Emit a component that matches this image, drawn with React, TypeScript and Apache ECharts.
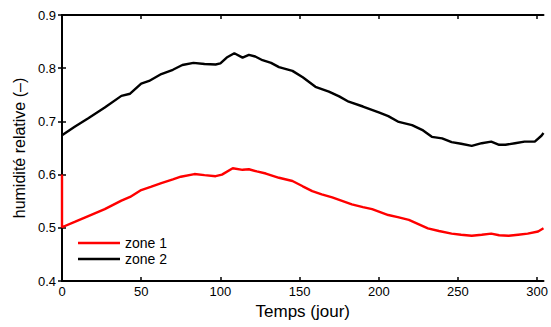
import React, { useEffect, useRef } from "react";
import * as echarts from "echarts";

const xTicks = [0, 50, 100, 150, 200, 250, 300];
const yTicks = [0.4, 0.5, 0.6, 0.7, 0.8, 0.9];

const zone2Days = [0, 8, 16.6, 27, 37.5, 43, 50, 55, 62.7, 70, 76, 83, 90, 97, 100, 104, 108.8, 114, 118, 122, 126.6, 132, 137, 145.5, 152, 160, 168.5, 175, 181, 190, 200, 206, 212.6, 221, 228, 233.5, 240, 246, 252, 258.7, 265, 271, 276, 280, 286, 292, 298.5, 302.7, 304];
const zone2Vals = [0.674, 0.69, 0.706, 0.726, 0.748, 0.752, 0.771, 0.776, 0.789, 0.797, 0.806, 0.81, 0.808, 0.807, 0.809, 0.82, 0.828, 0.82, 0.825, 0.822, 0.815, 0.81, 0.802, 0.795, 0.783, 0.765, 0.756, 0.747, 0.737, 0.728, 0.717, 0.71, 0.699, 0.693, 0.683, 0.671, 0.668, 0.661, 0.658, 0.654, 0.659, 0.662, 0.656, 0.656, 0.659, 0.662, 0.662, 0.673, 0.678];

const zone1Days = [0, 0, 8, 16.6, 27, 37.5, 43, 50, 56, 62.7, 70, 75, 83.6, 90, 97, 101, 107.8, 114, 118, 123, 128.7, 137, 145.5, 152, 158, 164, 170.6, 183, 190, 195.8, 206, 212, 219, 225, 231, 238, 246, 252, 258.7, 265, 271, 276, 282, 288, 294, 300.6, 304];
const zone1Vals = [0.6, 0.501, 0.511, 0.522, 0.535, 0.551, 0.558, 0.571, 0.577, 0.584, 0.591, 0.596, 0.601, 0.599, 0.597, 0.6, 0.612, 0.609, 0.61, 0.606, 0.602, 0.594, 0.588, 0.578, 0.569, 0.563, 0.557, 0.544, 0.539, 0.535, 0.524, 0.52, 0.515, 0.507, 0.499, 0.494, 0.489, 0.487, 0.485, 0.487, 0.489, 0.486, 0.485, 0.487, 0.489, 0.493, 0.499];

const FONT = "Liberation Sans, Arial, sans-serif";

export default function App() {
  const ref = useRef<HTMLDivElement>(null);
  useEffect(() => {
    if (!ref.current) return;
    const chart = echarts.init(ref.current, null, { renderer: "svg" });
    const axLine = { show: true, lineStyle: { color: "#000", width: 2 } };
    const axTick = { show: true, inside: true, length: 4, lineStyle: { color: "#000", width: 1.5 } };
    const xBase = { type: "value", min: 0, max: 304, splitLine: { show: false }, axisLine: axLine };
    const yBase = { type: "value", min: 0.4, max: 0.9, interval: 0.1, splitLine: { show: false }, axisLine: axLine };
    chart.setOption({
      animation: false,
      textStyle: { fontFamily: FONT },
      grid: { left: 62, right: 6, top: 15, bottom: 46 },
      legend: {
        orient: "vertical",
        left: 78,
        top: 236,
        padding: 0,
        itemWidth: 42,
        itemHeight: 2.4,
        itemGap: 2,
        icon: "rect",
        textStyle: { fontFamily: FONT, fontSize: 14, color: "#000" },
        data: ["zone 1", "zone 2"],
      },
      xAxis: [
        {
          ...xBase,
          position: "bottom",
          name: "Temps (jour)",
          nameLocation: "middle",
          nameGap: 22,
          nameTextStyle: { fontFamily: FONT, fontSize: 17, color: "#000" },
          axisTick: { ...axTick, customValues: xTicks },
          axisLabel: { customValues: xTicks, fontFamily: FONT, fontSize: 13, color: "#000", margin: 4 },
        },
        {
          ...xBase,
          position: "top",
          axisTick: { ...axTick, customValues: xTicks },
          axisLabel: { show: false },
        },
      ],
      yAxis: [
        {
          ...yBase,
          position: "left",
          name: "humidité relative (–)",
          nameLocation: "middle",
          nameGap: 34,
          nameTextStyle: { fontFamily: FONT, fontSize: 16, color: "#000" },
          axisTick: axTick,
          axisLabel: {
            fontFamily: FONT,
            fontSize: 13,
            color: "#000",
            margin: 6,
            formatter: (v: number) => v.toFixed(1),
          },
        },
        {
          ...yBase,
          position: "right",
          axisTick: axTick,
          axisLabel: { show: false },
        },
      ],
      series: [
        {
          name: "zone 1",
          type: "line",
          symbol: "none",
          smooth: false,
          data: zone1Days.map((d, i) => [d, zone1Vals[i]]),
          lineStyle: { color: "#ff0000", width: 2.4 },
          itemStyle: { color: "#ff0000" },
        },
        {
          name: "zone 2",
          type: "line",
          symbol: "none",
          smooth: false,
          data: zone2Days.map((d, i) => [d, zone2Vals[i]]),
          lineStyle: { color: "#000000", width: 2.4 },
          itemStyle: { color: "#000000" },
        },
      ],
    });
    return () => chart.dispose();
  }, []);
  return <div ref={ref} style={{ width: 551, height: 327, position: "absolute", left: 0, top: 0, background: "#fff" }} />;
}
